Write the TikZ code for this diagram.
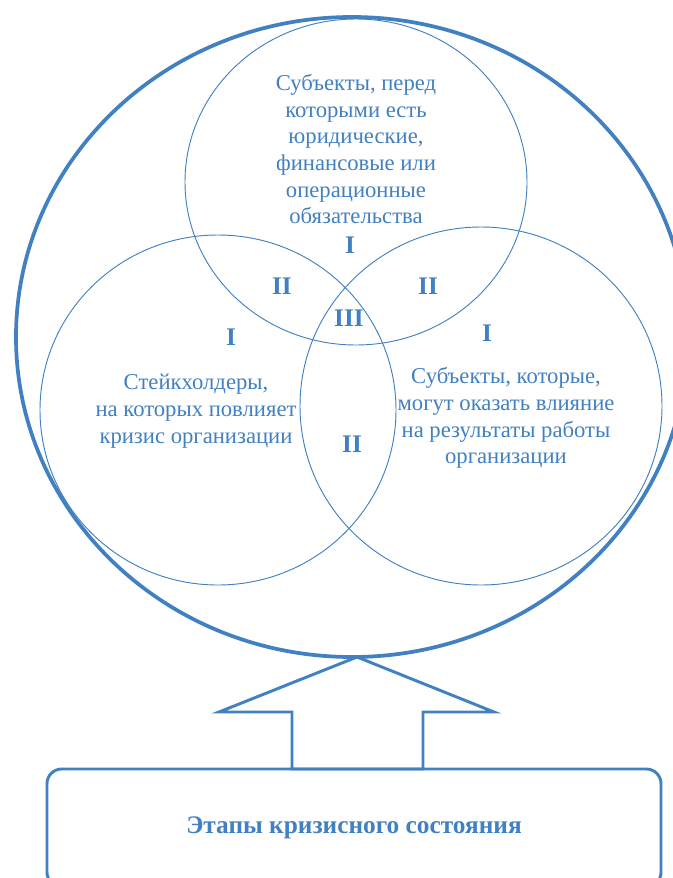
\documentclass[tikz,border=0pt]{standalone}
\usepackage{fontspec}
\setmainfont{Liberation Serif}
\usetikzlibrary{shapes.geometric}
\definecolor{vennblue}{RGB}{65,128,193}
\tikzset{
	bigring/.style={draw=vennblue, line width=2.8pt},
	ring/.style={draw=vennblue, line width=0.7pt},
	body/.style={text=vennblue, align=center, inner sep=0pt, font=\fontsize{17}{20}\selectfont},
	numeral/.style={text=vennblue, inner sep=0pt, font=\fontsize{19}{20}\selectfont\bfseries},
	stagebox/.style={draw=vennblue, line width=2.2pt, rounded corners=11pt,
		minimum width=460.5pt, minimum height=88.5pt, text=vennblue,
		font=\fontsize{19}{22}\selectfont\bfseries},
}
\begin{document}
\begin{tikzpicture}[x=0.75pt, y=-0.75pt]
	\useasboundingbox (0,0) rectangle (673,878);
	\clip (0,0) rectangle (673,878);

	% outer ring and the three sets
	\draw[bigring] (352,337) ellipse [x radius=336, y radius=320];
	\draw[ring] (356,182) ellipse [x radius=171, y radius=163];
	\draw[ring] (218,410) ellipse [x radius=178, y radius=175];
	\draw[ring] (481,406) ellipse [x radius=181, y radius=179];

	\node[body] (top) at (356,149) {Субъекты, перед\\которыми есть\\юридические,\\финансовые или\\операционные\\обязательства};
	\node[body] (left) at (196,411) {Стейкхолдеры,\\на которых повлияет\\кризис организации};
	\node[body] (right) at (506,418) {Субъекты, которые,\\могут оказать влияние\\на результаты работы\\организации};

	\foreach \x/\y/\t in {350/245/I, 282/286/II, 428/286/II, 349/318/III,
		231/337/I, 487/333/I, 352/444/II}{
		\node[numeral] at (\x,\y) {\t};
	}

	% block arrow and the box below
	\node[stagebox] (stages) at (354,828) {Этапы кризисного состояния};
	\draw[vennblue, line width=2.2pt, line join=miter]
		(357,657) -- (494,712) -- (423,712) -- (423,769) -- (292,769)
		-- (292,712) -- (219,712) -- cycle;

\end{tikzpicture}
\end{document}
